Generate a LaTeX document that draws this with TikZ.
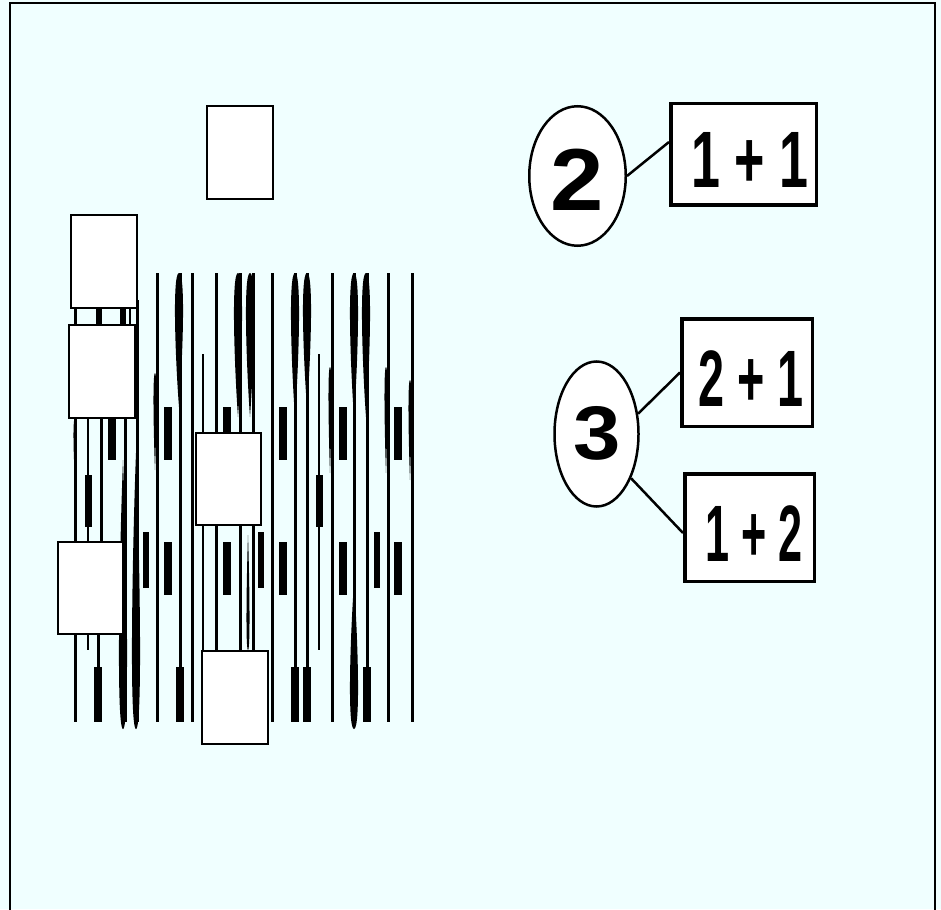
\documentclass[tikz,border=0pt]{standalone}
\usepackage{fontspec}
\setmainfont{Liberation Sans}
\usepackage{graphicx}
\usetikzlibrary{shapes.geometric,calc}
\definecolor{bgcol}{HTML}{F0FFFF}
\begin{document}
\begin{tikzpicture}[x=1pt,y=-1pt,
  ln/.style={line width=3pt},
  thinln/.style={line width=2.2pt},
  whitebox/.style={draw=black,fill=white,line width=2pt},
  ell/.style={ellipse,draw=black,fill=white,line width=2.5pt,inner sep=0pt},
  sumbox/.style={rectangle,draw=black,fill=white,line width=3.5pt,inner sep=0pt},
  lbl/.style={inner sep=0pt,font=\bfseries},
  conn/.style={line width=2.5pt}]
\useasboundingbox (0,0) rectangle (941,909);
\fill[bgcol] (0,0) rectangle (941,909);
\begin{scope}
\clip (0,0) rectangle (941,909);
\draw[line width=2pt] (10,3) rectangle (935,930);
\end{scope}
% vertical lines
\foreach \x/\a/\b in {137/300/722,157/273/722,180/273/722,192/273/722,272/273/722,
  295/273/722,307/273/722,332/273/722,354/273/722,367/273/722,388/273/722,412/273/722,
  216/273/651,240/273/651,253/273/651,101/418/542,98/634/722,125/418/722,75/300/722}
  \draw[ln] (\x,\a) -- (\x,\b);
\foreach \x/\a/\b in {203/354/651,319/354/650,88/418/650,130/308/325}
  \draw[thinln] (\x,\a) -- (\x,\b);
% bars
\foreach \x/\a/\b/\w in {112/407/460/8,168/407/460/8,227/407/460/8,283/407/460/8,343/407/460/8,398/407/460/8,
  168/542/595/8,227/542/595/8,283/542/595/8,343/542/595/8,398/542/595/8,
  146/532/588/6,261/532/588/6,377/532/588/6,
  88/475/527/7,319/475/527/7,
  98/667/722/8,180/667/722/8,295/667/722/8,307/667/722/8,367/667/722/8,
  99/308/325/6,123/308/325/6}
  \fill (\x-\w/2,\a) rectangle (\x+\w/2,\b);
% lenses, widest at the top
\foreach \x/\a/\b/\w in {179/273/407/8,238/273/417/8,250/273/417/8,295/273/417/8,307/273/407/8,
  354/273/417/8,366/273/417/8,155/373/470/3,330/367/473/3,386/367/473/3,410/380/480/3,75/418/480/3}
  \fill (\x,\a) .. controls (\x+\w*0.9,\a) and (\x+\w*0.4,\b-0.3*\b+0.3*\a) .. (\x,\b)
        .. controls (\x-\w*0.4,\b-0.3*\b+0.3*\a) and (\x-\w*0.9,\a) .. (\x,\a) -- cycle;
% lenses, widest at the bottom
\foreach \x/\a/\b/\w in {123/460/729/8,136/453/729/8,354/583/729/8,248/535/650/3}
  \fill (\x,\b) .. controls (\x+\w*0.9,\b) and (\x+\w*0.4,\a+0.3*\b-0.3*\a) .. (\x,\a)
        .. controls (\x-\w*0.4,\a+0.3*\b-0.3*\a) and (\x-\w*0.9,\b) .. (\x,\b) -- cycle;
% white rectangles
\draw[whitebox] (207,106) rectangle (273,199);
\draw[whitebox] (71,215) rectangle (137,308);
\draw[whitebox] (69,325) rectangle (135,418);
\draw[whitebox] (196,433) rectangle (261,525);
\draw[whitebox] (58,542) rectangle (123,634);
\draw[whitebox] (202,651) rectangle (268,744);
% right part
\node[ell,minimum width=96.5pt,minimum height=139.5pt] (e2) at (577.5,176) {};
\node[ell,minimum width=84pt,minimum height=145pt] (e3) at (596.5,434) {};
\node[sumbox,minimum width=145.5pt,minimum height=101.5pt] (b11) at (743.5,154.5) {};
\node[sumbox,minimum width=130.5pt,minimum height=107.5pt] (b21) at (747,372.5) {};
\node[sumbox,minimum width=129.5pt,minimum height=107.5pt] (b12) at (749.5,527.5) {};
\draw[conn] (e2.east) -- ([yshift=12.5pt]b11.west);
\draw[conn] (e3.26) -- (b21.west);
\draw[conn] (e3.-52) -- ([yshift=-5.5pt]b12.west);
\node[lbl] (t2) at (577.5,180) {\scalebox{1.09}[1]{\fontsize{88}{88}\selectfont 2}};
\node[lbl] (t3) at (597.5,433.5) {\scalebox{1.12}[1]{\fontsize{76}{76}\selectfont 3}};
\node[lbl] (t11) at (750,160) {\scalebox{0.65}[1]{\fontsize{80}{80}\selectfont 1 + 1}};
\node[lbl] (t21) at (751,378.5) {\scalebox{0.585}[1]{\fontsize{80}{80}\selectfont 2 + 1}};
\node[lbl] (t12) at (754,534) {\scalebox{0.54}[1]{\fontsize{80}{80}\selectfont 1 + 2}};
\end{tikzpicture}
\end{document}
